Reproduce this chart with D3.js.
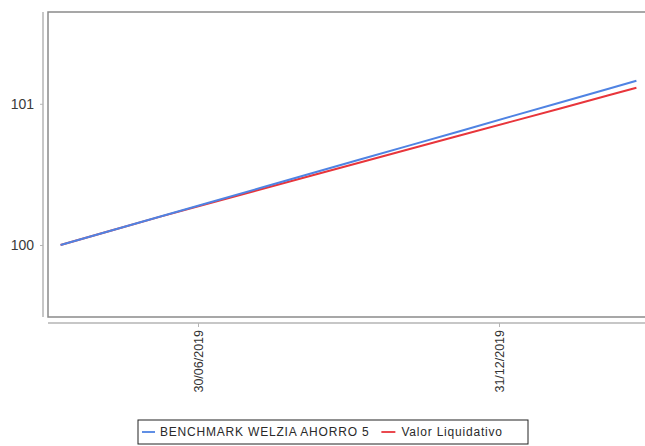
<!DOCTYPE html>
<html>
<head>
<meta charset="utf-8">
<script src="https://cdn.jsdelivr.net/npm/d3@7"></script>
<style>
  body { margin: 0; background: #fff; }
  text { font-family: "Liberation Sans", Arial, sans-serif; }
</style>
</head>
<body>
<svg id="chart" width="645" height="446"></svg>
<script>
// series data
var dates = ["2019-04-07", "2019-05-07", "2019-06-07", "2019-07-07", "2019-08-07", "2019-09-07",
  "2019-10-07", "2019-11-07", "2019-12-07", "2020-01-07", "2020-02-07", "2020-03-07", "2020-03-24"];
var benchmark = [100, 100.099, 100.202, 100.301, 100.403, 100.506, 100.605, 100.707, 100.806,
  100.909, 101.011, 101.107, 101.163];
var valorLiq = [100, 100.099, 100.201, 100.296, 100.393, 100.490, 100.584, 100.681, 100.775,
  100.872, 100.969, 101.060, 101.113];
var yTicks = [100, 101];
var xTicks = ["2019-06-30", "2019-12-31"];
var seriesNames = ["BENCHMARK WELZIA AHORRO 5", "Valor Liquidativo"];
var colors = ["#4f83e3", "#e8353b"];

var parse = d3.timeParse("%Y-%m-%d"),
    fmt = d3.timeFormat("%d/%m/%Y");

var svg = d3.select("#chart");

var plot = {left: 48, right: 650, top: 12, bottom: 317};

var x = d3.scaleTime()
  .domain([parse("2019-06-30"), parse("2019-12-31")])
  .range([198, 499]);

var y = d3.scaleLinear()
  .domain([99.49, 101.65])
  .range([plot.bottom, plot.top]);

// frame
svg.append("rect")
  .attr("x", plot.left).attr("y", plot.top)
  .attr("width", plot.right - plot.left).attr("height", plot.bottom - plot.top)
  .attr("fill", "none")
  .attr("stroke", "#8a8a8a")
  .attr("stroke-width", 1.5);

// y axis, detached a little to the left
var yAxis = svg.append("g")
  .attr("transform", "translate(43,0)")
  .call(d3.axisLeft(y).tickValues(yTicks).tickSize(3).tickPadding(6).tickFormat(d3.format("d")));
yAxis.select(".domain").attr("stroke", "#b5b5b5").attr("stroke-width", 1.5)
  .attr("d", "M0," + plot.top + "V" + plot.bottom);
yAxis.selectAll(".tick line").attr("stroke", "#b5b5b5");
yAxis.selectAll(".tick text").attr("fill", "#3a3a3a").style("font-size", "14px");

// x axis, detached a little below
var xAxis = svg.append("g")
  .attr("transform", "translate(0,323)")
  .call(d3.axisBottom(x).tickValues(xTicks.map(parse)).tickSize(4).tickFormat(fmt));
xAxis.select(".domain").attr("stroke", "#b5b5b5").attr("stroke-width", 1.5)
  .attr("d", "M" + plot.left + ",0H645");
xAxis.selectAll(".tick line").attr("stroke", "#b5b5b5");
xAxis.selectAll(".tick text")
  .attr("fill", "#333")
  .style("font-size", "12.5px")
  .attr("text-anchor", "end")
  .attr("transform", "rotate(-90)")
  .attr("x", -7)
  .attr("y", 0)
  .attr("dy", "0.35em");

// lines
var line = d3.line()
  .x(function(d) { return x(d.date); })
  .y(function(d) { return y(d.value); });

[valorLiq, benchmark].forEach(function(vals, i) {
  var data = dates.map(function(d, j) { return {date: parse(d), value: vals[j]}; });
  svg.append("path")
    .datum(data)
    .attr("fill", "none")
    .attr("stroke", i == 0 ? colors[1] : colors[0])
    .attr("stroke-width", 2)
    .attr("d", line);
});

// legend
var legend = svg.append("g").attr("transform", "translate(138,420)");
legend.append("rect")
  .attr("x", 0).attr("y", 0).attr("width", 390).attr("height", 24)
  .attr("fill", "#fff").attr("stroke", "#222").attr("stroke-width", 1);

var lx = 4;
seriesNames.forEach(function(name, i) {
  legend.append("line")
    .attr("x1", lx).attr("x2", lx + (i == 0 ? 13 : 14))
    .attr("y1", 12).attr("y2", 12)
    .attr("stroke", colors[i]).attr("stroke-width", 1.8);
  var t = legend.append("text")
    .attr("x", lx + (i == 0 ? 18 : 20))
    .attr("y", 12).attr("dy", "0.35em")
    .attr("fill", "#2a2a2a")
    .style("font-size", "12px")
    .style("letter-spacing", "0.8px")
    .text(name);
  lx = lx + (i == 0 ? 18 : 20) + t.node().getComputedTextLength() + 12;
});
</script>
</body>
</html>
